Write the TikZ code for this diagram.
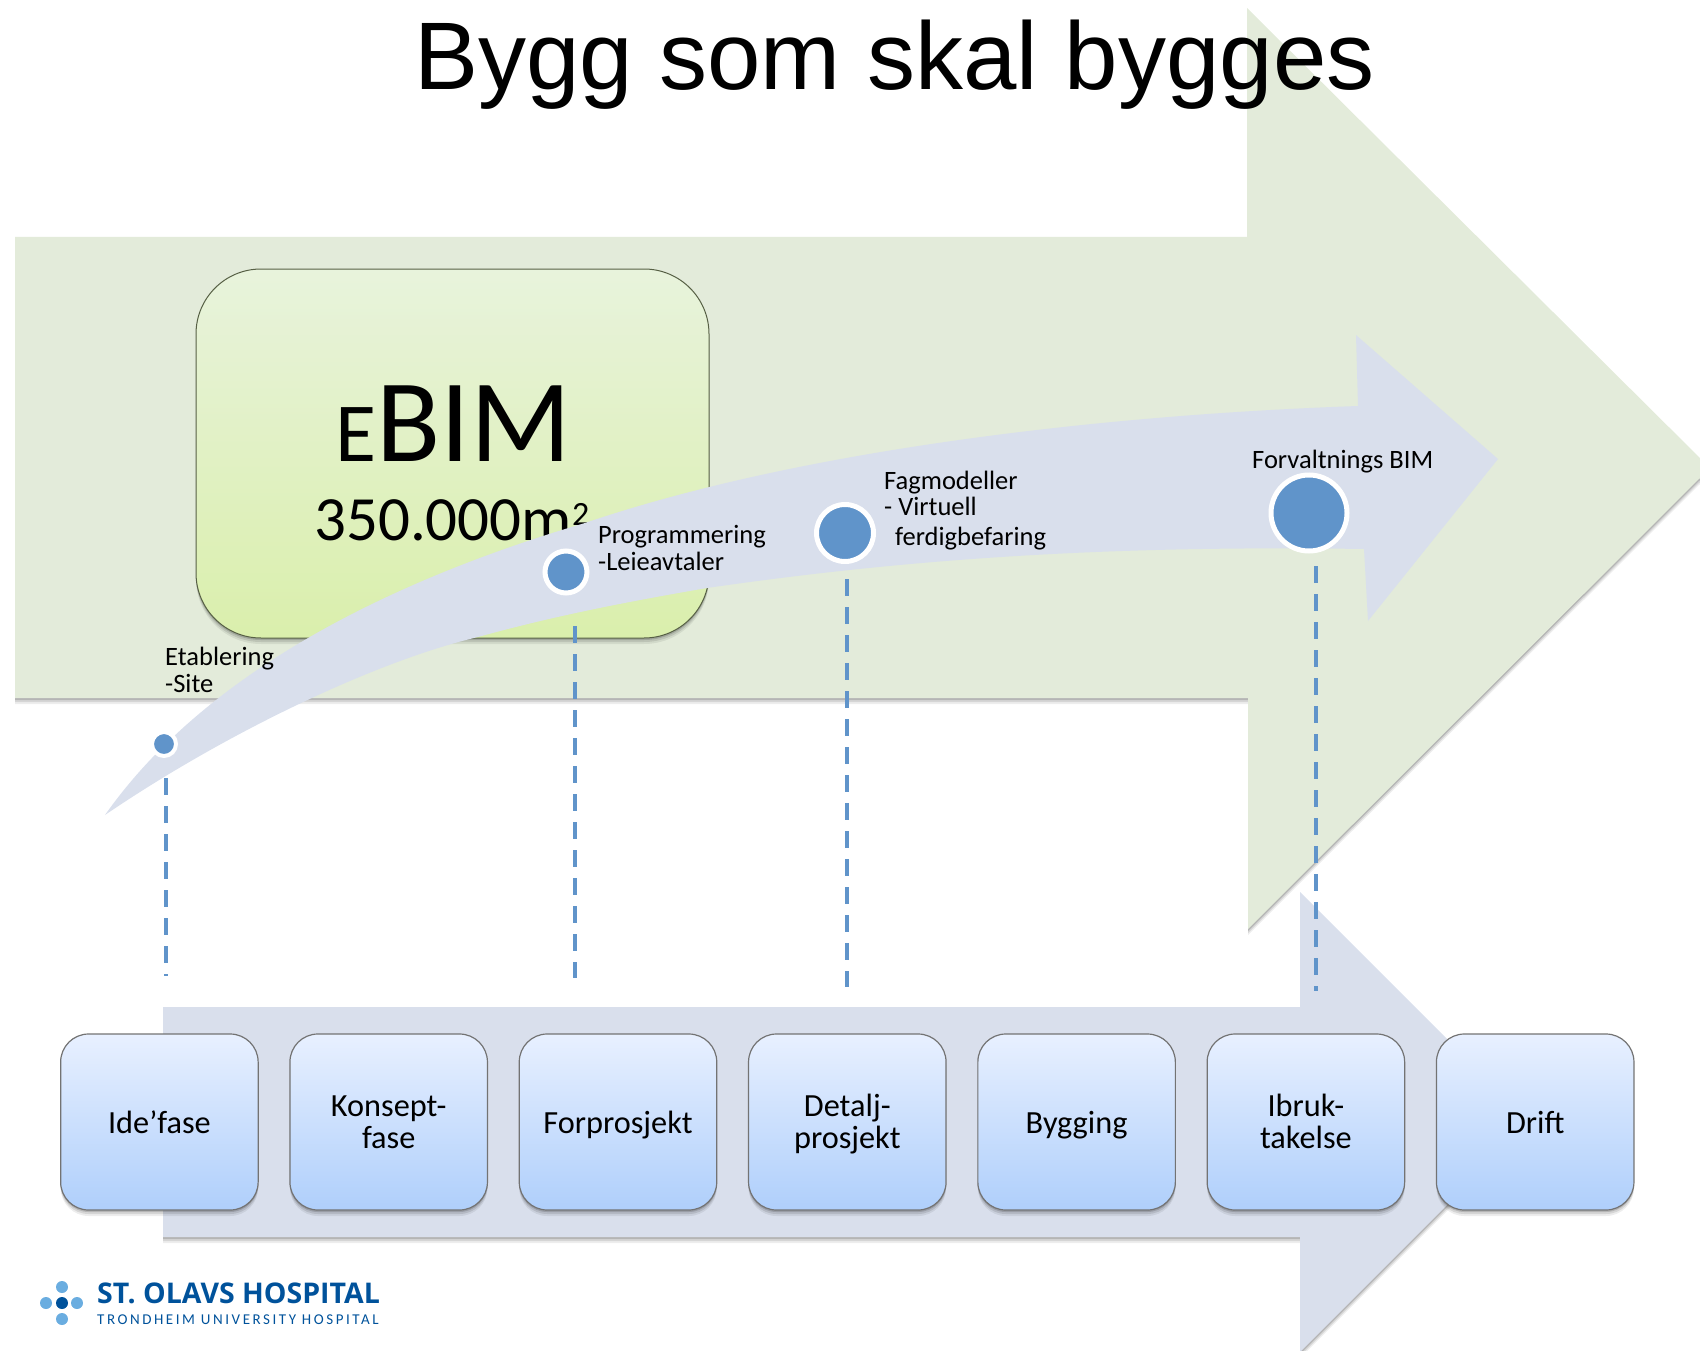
\documentclass[tikz,border=0pt]{standalone}
\usepackage{fontspec}
\setmainfont{Carlito}
\newfontfamily\titlefont{Liberation Sans}
\newfontfamily\logofont{Open Sans}
\newfontfamily\spacedfont[LetterSpace=17]{Carlito}
\usetikzlibrary{shapes,shadows}
\definecolor{greenarrow}{HTML}{E3EBDA}
\definecolor{bluearrow}{HTML}{D9DFEC}
\definecolor{dotblue}{HTML}{6094CA}
\definecolor{logoblue}{HTML}{00529B}
\definecolor{logolight}{HTML}{6AADE0}
\definecolor{phasetop}{HTML}{E8F0FF}
\definecolor{phasebottom}{HTML}{AFCFFB}
\definecolor{boxtop}{HTML}{E8F3DC}
\definecolor{boxbottom}{HTML}{DAEFAC}

\begin{document}
\begin{tikzpicture}[x=1pt,y=-1pt,node distance=229.3pt,inner sep=0pt]
        \tikzstyle{softshadow}=[drop shadow={shadow xshift=0pt,shadow yshift=-6pt,fill=black,opacity=.07},drop shadow={shadow xshift=0pt,shadow yshift=-4pt,fill=black,opacity=.1},drop shadow={shadow xshift=0pt,shadow yshift=-2pt,fill=black,opacity=.15}]
        \tikzstyle{phase}=[rectangle,rounded corners=28pt,draw=black!55,line width=1.2pt,top color=phasetop,bottom color=phasebottom,minimum width=197.5pt,minimum height=176pt,align=center,font=\fontsize{32.3}{32}\selectfont,execute at end node={\rule[-8pt]{0pt}{8pt}},softshadow]
        \tikzstyle{phaseone}=[phase,execute at begin node={\rule{0pt}{30pt}}]
        \tikzstyle{phasetwo}=[phase,execute at begin node={\rule{0pt}{61pt}}]
        \tikzstyle{milestone}=[circle,draw=white,fill=dotblue,line width=5pt]
        \tikzstyle{note}=[anchor=base west,align=left,font=\fontsize{26.5}{27}\selectfont]
        \tikzstyle{guide}=[draw=dotblue,line width=4pt,dash pattern=on 17pt off 11pt]
        \tikzstyle{logodot}=[circle,fill=logolight,minimum size=12pt]

        \clip (0,0) rectangle (1700,1351);

        \path [fill=greenarrow,softshadow] (15,237) -- (1247,237) -- (1247,8) -- (1710,468) -- (1248,929) -- (1248,698) -- (15,698) -- cycle; %big arrow
        \node (title) at (414,90) [anchor=base west,font=\titlefont\fontsize{96}{96}\selectfont] {Bygg som skal bygges};

        \node (ebim) at (452.5,453.5) [rectangle,rounded corners=65pt,draw=black!60!boxbottom,line width=1pt,top color=boxtop,bottom color=boxbottom,minimum width=513pt,minimum height=369pt,softshadow] {};
        \node (ebimtext) at (335.5,461) [anchor=base west,font=\fontsize{118}{118}\selectfont] {{\fontsize{84}{84}\selectfont E}BIM};
        \node (area) at (314,540) [anchor=base west,font=\fontsize{63}{63}\selectfont] {350.000m\raisebox{15pt}{\fontsize{34}{34}\selectfont 2}};

        \path [fill=bluearrow] (105,815) .. controls (200,680) and (375,585) .. (585,523) .. controls (800,450) and (1100,415) .. (1358,406) -- (1356,335) -- (1498,459) -- (1368,621) -- (1364,549) .. controls (1100,545) and (900,560) .. (707,588) .. controls (620,603) and (550,617) .. (478,637) .. controls (380,660) and (230,730) .. (105,815) -- cycle; %curved arrow
        \path [fill=bluearrow,softshadow] (163,1007) -- (1300,1007) -- (1300,892) -- (1530,1122) -- (1300,1352) -- (1300,1237) -- (163,1237) -- cycle; %phase arrow

        \node [milestone,minimum size=24pt,line width=4pt] (dot1) at (164,744) {};
        \node [milestone,minimum size=42pt] (dot2) at (566,572) {};
        \node [milestone,minimum size=57pt] (dot3) at (845,533) {};
        \node [milestone,minimum size=76pt] (dot4) at (1309,513) {};

        \node [note] (etablering) at (165,692) {Etablering\\-Site};
        \node [note] (programmering) at (598,570) {Programmering\\-Leieavtaler};
        \node [note] (fagmodeller) at (884,545) {Fagmodeller\\[-1pt]- Virtuell\\[3pt]\hspace*{11pt}ferdigbefaring};
        \node [note] (forvaltning) at (1252,468) {Forvaltnings BIM};

        \coordinate (top1) at (166,778);
        \coordinate (end1) at (166,975.5);
        \coordinate (top2) at (575,626);
        \coordinate (end2) at (575,978);
        \coordinate (top3) at (847,579);
        \coordinate (end3) at (847,987);
        \coordinate (top4) at (1316,566);
        \coordinate (end4) at (1316,991);
        \foreach \i in {1,2,3,4}
            \draw [guide] (top\i) -- (end\i);

        \node [phaseone] (ide) at (159.4,1122) {Ide’fase};
        \node [phasetwo] (konsept) [right of=ide] {Konsept-\\fase};
        \node [phaseone] (forprosjekt) [right of=konsept] {Forprosjekt};
        \node [phasetwo] (detalj) [right of=forprosjekt] {Detalj-\\prosjekt};
        \node [phaseone] (bygging) [right of=detalj] {Bygging};
        \node [phasetwo] (ibruk) [right of=bygging] {Ibruk-\\takelse};
        \node [phaseone] (drift) [right of=ibruk] {Drift};

        \node [logodot,fill=logoblue] (logoc) at (62,1303) {}; %logo
        \node [logodot] (logou) at (62,1287) {};
        \node [logodot] (logod) at (62,1319) {};
        \node [logodot] (logol) at (46,1303) {};
        \node [logodot] (logor) at (77,1303) {};
        \node (logoname) at (97,1303) [anchor=base west,text=logoblue,font=\logofont\bfseries\fontsize{28.5}{28.5}\selectfont] {ST. OLAVS HOSPITAL};
        \node (logosub) at (97,1324) [anchor=base west,text=logoblue,font=\spacedfont\fontsize{15}{15}\selectfont] {TRONDHEIM UNIVERSITY HOSPITAL};
    \end{tikzpicture}
\end{document}
